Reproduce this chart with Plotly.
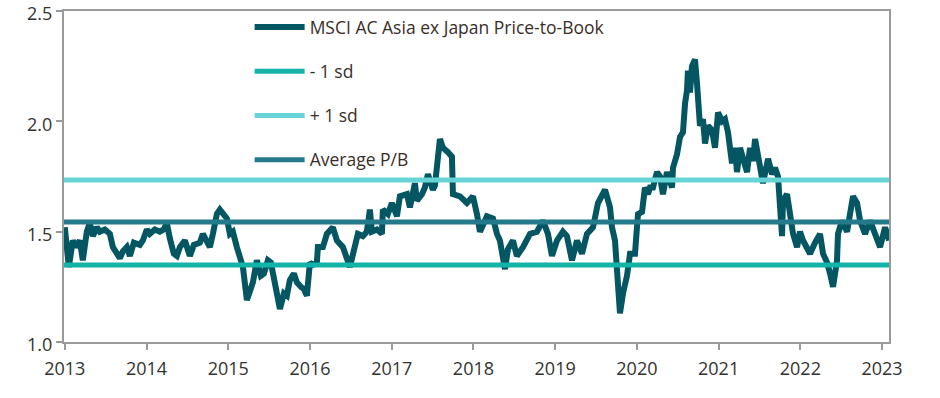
import plotly.graph_objects as go

# Decimal-year dates and MSCI AC Asia ex Japan price-to-book values
dates = [
    2013.000, 2013.024, 2013.049, 2013.073, 2013.098, 2013.135, 2013.184, 2013.220, 2013.269, 2013.306,
    2013.343, 2013.392, 2013.428, 2013.490, 2013.551, 2013.588, 2013.636, 2013.673, 2013.710, 2013.759,
    2013.796, 2013.845, 2013.918, 2013.955, 2014.004, 2014.040, 2014.102, 2014.163, 2014.212, 2014.248,
    2014.285, 2014.334, 2014.371, 2014.408, 2014.469, 2014.530, 2014.579, 2014.652, 2014.689, 2014.738,
    2014.775, 2014.812, 2014.861, 2014.897, 2014.946, 2014.983, 2015.020, 2015.056, 2015.105, 2015.142,
    2015.179, 2015.228, 2015.264, 2015.301, 2015.350, 2015.399, 2015.436, 2015.485, 2015.521, 2015.546,
    2015.595, 2015.632, 2015.681, 2015.717, 2015.754, 2015.803, 2015.840, 2015.889, 2015.925, 2015.962,
    2015.999, 2016.035, 2016.084, 2016.097, 2016.158, 2016.207, 2016.280, 2016.329, 2016.403, 2016.488,
    2016.525, 2016.586, 2016.647, 2016.696, 2016.733, 2016.758, 2016.819, 2016.880, 2016.892, 2016.953,
    2017.002, 2017.064, 2017.100, 2017.186, 2017.223, 2017.284, 2017.308, 2017.370, 2017.406, 2017.443,
    2017.504, 2017.529, 2017.590, 2017.627, 2017.688, 2017.737, 2017.749, 2017.835, 2017.920, 2017.994,
    2018.043, 2018.080, 2018.165, 2018.239, 2018.288, 2018.324, 2018.386, 2018.422, 2018.483, 2018.532,
    2018.606, 2018.692, 2018.777, 2018.851, 2018.912, 2018.961, 2019.022, 2019.095, 2019.144, 2019.206,
    2019.267, 2019.328, 2019.389, 2019.463, 2019.524, 2019.610, 2019.671, 2019.695, 2019.732, 2019.769,
    2019.793, 2019.830, 2019.879, 2019.916, 2019.977, 2020.001, 2020.014, 2020.063, 2020.099, 2020.136,
    2020.160, 2020.197, 2020.246, 2020.283, 2020.319, 2020.368, 2020.430, 2020.442, 2020.491, 2020.528,
    2020.564, 2020.589, 2020.613, 2020.625, 2020.650, 2020.674, 2020.711, 2020.736, 2020.748, 2020.772,
    2020.809, 2020.834, 2020.870, 2020.919, 2020.956, 2020.993, 2021.042, 2021.078, 2021.115, 2021.164,
    2021.201, 2021.225, 2021.262, 2021.299, 2021.348, 2021.384, 2021.421, 2021.446, 2021.482, 2021.543,
    2021.605, 2021.654, 2021.690, 2021.727, 2021.776, 2021.788, 2021.837, 2021.874, 2021.911, 2021.960,
    2021.996, 2022.033, 2022.082, 2022.119, 2022.180, 2022.241, 2022.278, 2022.327, 2022.364, 2022.400,
    2022.449, 2022.461, 2022.510, 2022.572, 2022.608, 2022.645, 2022.694, 2022.731, 2022.792, 2022.853,
    2022.914, 2022.976, 2023.037, 2023.086,
]
pb = [
    1.52, 1.45, 1.34, 1.40, 1.46, 1.43, 1.46, 1.37, 1.50, 1.54,
    1.48, 1.52, 1.50, 1.51, 1.49, 1.43, 1.40, 1.38, 1.41, 1.43,
    1.39, 1.45, 1.44, 1.46, 1.51, 1.49, 1.51, 1.50, 1.51, 1.54,
    1.47, 1.40, 1.39, 1.43, 1.46, 1.39, 1.44, 1.45, 1.49, 1.46,
    1.43, 1.49, 1.58, 1.60, 1.57, 1.56, 1.49, 1.50, 1.43, 1.38,
    1.34, 1.19, 1.24, 1.27, 1.37, 1.30, 1.31, 1.37, 1.36, 1.30,
    1.22, 1.15, 1.22, 1.21, 1.28, 1.31, 1.27, 1.25, 1.24, 1.21,
    1.36, 1.35, 1.36, 1.43, 1.43, 1.49, 1.52, 1.46, 1.43, 1.34,
    1.39, 1.49, 1.48, 1.50, 1.60, 1.50, 1.51, 1.49, 1.60, 1.58,
    1.63, 1.57, 1.66, 1.67, 1.61, 1.72, 1.64, 1.67, 1.70, 1.76,
    1.69, 1.71, 1.92, 1.88, 1.86, 1.84, 1.67, 1.66, 1.63, 1.66,
    1.58, 1.50, 1.57, 1.56, 1.49, 1.46, 1.33, 1.42, 1.46, 1.39,
    1.43, 1.49, 1.50, 1.55, 1.49, 1.39, 1.46, 1.50, 1.48, 1.37,
    1.46, 1.40, 1.49, 1.52, 1.63, 1.69, 1.61, 1.52, 1.46, 1.20,
    1.13, 1.22, 1.30, 1.40, 1.40, 1.52, 1.58, 1.59, 1.70, 1.67,
    1.70, 1.70, 1.77, 1.75, 1.67, 1.77, 1.70, 1.79, 1.85, 1.93,
    1.95, 2.08, 2.14, 2.23, 2.13, 2.25, 2.28, 2.17, 2.08, 1.98,
    2.01, 1.90, 1.98, 1.96, 1.88, 2.04, 2.00, 2.01, 1.95, 1.81,
    1.88, 1.77, 1.88, 1.84, 1.77, 1.88, 1.82, 1.92, 1.84, 1.72,
    1.83, 1.76, 1.79, 1.75, 1.48, 1.64, 1.67, 1.58, 1.49, 1.43,
    1.50, 1.46, 1.43, 1.40, 1.45, 1.49, 1.40, 1.36, 1.31, 1.25,
    1.37, 1.49, 1.55, 1.50, 1.58, 1.66, 1.63, 1.55, 1.49, 1.55,
    1.49, 1.43, 1.52, 1.46,
]

# Reference levels
average_pb = 1.544
minus_1sd = 1.349
plus_1sd = 1.734
level_span = [2012.99, 2023.085]

# Axis ticks
year_ticks = list(range(2013, 2024))
year_labels = [str(y) for y in year_ticks]
y_ticks = [1.0, 1.5, 2.0, 2.5]
y_labels = ["1.0", "1.5", "2.0", "2.5"]

C_MAIN = "#035662"
C_MINUS = "#13b3a8"
C_PLUS = "#66d3d6"
C_AVG = "#247a8b"

fig = go.Figure()
fig.add_trace(go.Scatter(
    x=dates, y=pb, mode="lines", name="MSCI AC Asia ex Japan Price-to-Book",
    line=dict(color=C_MAIN, width=6), legendgroup="a", legendrank=1,
))
fig.add_trace(go.Scatter(
    x=level_span, y=[plus_1sd, plus_1sd], mode="lines", name="+ 1 sd",
    line=dict(color=C_PLUS, width=5), legendgroup="c", legendrank=3,
))
fig.add_trace(go.Scatter(
    x=level_span, y=[minus_1sd, minus_1sd], mode="lines", name="- 1 sd",
    line=dict(color=C_MINUS, width=5), legendgroup="b", legendrank=2,
))
fig.add_trace(go.Scatter(
    x=level_span, y=[average_pb, average_pb], mode="lines", name="Average P/B",
    line=dict(color=C_AVG, width=5), legendgroup="d", legendrank=4,
))

fig.update_layout(
    width=940, height=398,
    margin=dict(l=64, r=51, t=11, b=56, autoexpand=False),
    paper_bgcolor="white", plot_bgcolor="white",
    font=dict(family="Open Sans, Noto Sans, sans-serif", color="#333333", size=15),
    showlegend=True,
    legend=dict(
        x=0.225, y=1.006, xanchor="left", yanchor="top",
        bgcolor="rgba(0,0,0,0)", font=dict(size=17.5, color="#3a2e2a"),
        tracegroupgap=18.5, traceorder="grouped", itemwidth=50,
    ),
    xaxis=dict(
        range=[2012.99, 2023.085], tickmode="array", tickvals=year_ticks, ticktext=year_labels,
        showgrid=False, zeroline=False, showline=True, linecolor="#9a9a9a", linewidth=2,
        mirror=True, ticks="outside", ticklen=6, tickwidth=2, tickcolor="#9a9a9a",
        tickfont=dict(size=18, color="#333333"), automargin=False,
        ticklabeloverflow="allow", ticklabelstandoff=3,
    ),
    yaxis=dict(
        range=[1.0, 2.5], tickmode="array", tickvals=y_ticks, ticktext=y_labels,
        showgrid=False, zeroline=False, showline=True, linecolor="#9a9a9a", linewidth=2,
        mirror=True, ticks="outside", ticklen=6, tickwidth=2, tickcolor="#9a9a9a",
        tickfont=dict(size=18, color="#333333"), automargin=False,
        ticklabeloverflow="allow", ticklabelshift=3,
    ),
)

fig.write_html("out.html", config={"displayModeBar": False},
               post_script="document.body.style.margin='0';")
